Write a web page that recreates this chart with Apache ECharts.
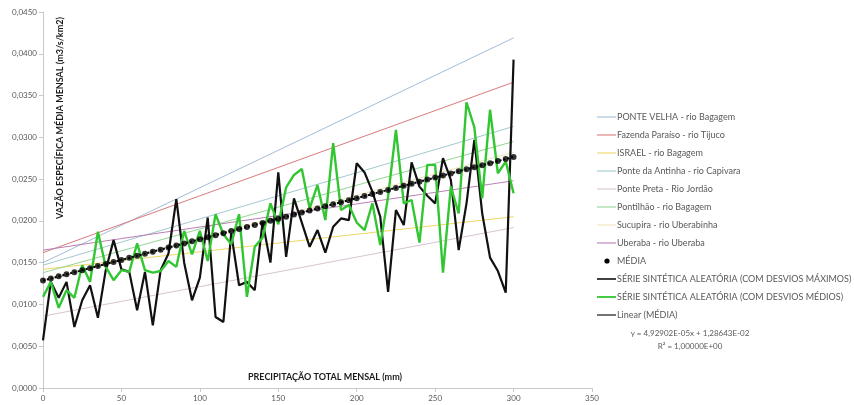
<!DOCTYPE html>
<html>
<head>
<meta charset="utf-8">
<script src="https://cdn.jsdelivr.net/npm/echarts@6/dist/echarts.min.js"></script>
<style>
html, body { margin: 0; padding: 0; background: #ffffff; }
#chart { width: 854px; height: 405px; }
</style>
</head>
<body>
<div id="chart"></div>
<script>
// Monthly precipitation (mm) at which the synthetic series are sampled
const precipitation = [
  0, 5, 10, 15, 20, 25, 30, 35, 40, 45,
  50, 55, 60, 65, 70, 75, 80, 85, 90, 95,
  100, 105, 110, 115, 120, 125, 130, 135, 140, 145,
  150, 155, 160, 165, 170, 175, 180, 185, 190, 195,
  200, 205, 210, 215, 220, 225, 230, 235, 240, 245,
  250, 255, 260, 265, 270, 275, 280, 285, 290, 295,
  300
];

// Random synthetic series, maximum deviations (m3/s/km2)
const seriesMaxDeviation = [
  0.0057, 0.0127, 0.0108, 0.0127, 0.0073, 0.0105, 0.0123, 0.0084, 0.0141, 0.0177,
  0.0142, 0.0139, 0.0093, 0.0139, 0.0075, 0.0141, 0.0161, 0.0226, 0.0150, 0.0105,
  0.0132, 0.0204, 0.0085, 0.0079, 0.0185, 0.0123, 0.0127, 0.0117, 0.0199, 0.0150,
  0.0258, 0.0157, 0.0227, 0.0198, 0.0169, 0.0189, 0.0162, 0.0193, 0.0203, 0.0201,
  0.0269, 0.0258, 0.0235, 0.0205, 0.0115, 0.0213, 0.0195, 0.0270, 0.0241, 0.0230,
  0.0221, 0.0275, 0.0249, 0.0165, 0.0221, 0.0297, 0.0209, 0.0156, 0.0140, 0.0114,
  0.0393
];

// Random synthetic series, mean deviations (m3/s/km2)
const seriesMeanDeviation = [
  0.0109, 0.0127, 0.0096, 0.0117, 0.0108, 0.0147, 0.0127, 0.0187, 0.0145, 0.0129,
  0.0141, 0.0139, 0.0173, 0.0141, 0.0138, 0.0140, 0.0152, 0.0145, 0.0188, 0.0160,
  0.0188, 0.0152, 0.0208, 0.0184, 0.0172, 0.0208, 0.0109, 0.0169, 0.0180, 0.0221,
  0.0196, 0.0240, 0.0255, 0.0262, 0.0215, 0.0243, 0.0201, 0.0293, 0.0213, 0.0219,
  0.0198, 0.0189, 0.0221, 0.0171, 0.0229, 0.0309, 0.0221, 0.0225, 0.0174, 0.0267,
  0.0267, 0.0138, 0.0241, 0.0209, 0.0342, 0.0312, 0.0227, 0.0333, 0.0257, 0.0271,
  0.0233
];

// Mean of the station regressions (MÉDIA)
const mediaValues = [
  0.01286, 0.01311, 0.01336, 0.01360, 0.01385, 0.01410, 0.01434, 0.01459, 0.01484, 0.01508,
  0.01533, 0.01558, 0.01582, 0.01607, 0.01631, 0.01656, 0.01681, 0.01705, 0.01730, 0.01755,
  0.01779, 0.01804, 0.01829, 0.01853, 0.01878, 0.01903, 0.01927, 0.01952, 0.01976, 0.02001,
  0.02026, 0.02050, 0.02075, 0.02100, 0.02124, 0.02149, 0.02174, 0.02198, 0.02223, 0.02248,
  0.02272, 0.02297, 0.02322, 0.02346, 0.02371, 0.02395, 0.02420, 0.02445, 0.02469, 0.02494,
  0.02519, 0.02543, 0.02568, 0.02593, 0.02617, 0.02642, 0.02667, 0.02691, 0.02716, 0.02740,
  0.02765
];

// Linear fit of MÉDIA
const trendSlope = 4.92902e-5;
const trendIntercept = 1.28643e-2;
const trendR2 = 1.0;

// Gauging stations: regression line endpoints at 0 mm and 300 mm
const stationNames = [
  'PONTE VELHA - rio Bagagem',
  'Fazenda Paraíso - rio Tijuco',
  'ISRAEL - rio Bagagem',
  'Ponte da Antinha - rio Capivara',
  'Ponte Preta - Rio Jordão',
  'Pontilhão - rio Bagagem',
  'Sucupira - rio Uberabinha',
  'Uberaba - rio Uberaba'
];
const stationRangeX = [0, 300];
const stationStart = [0.0150, 0.0162, 0.0142, 0.0147, 0.0086, 0.0138, 0.0128, 0.0165];
const stationEnd   = [0.0419, 0.0366, 0.0205, 0.0313, 0.0192, 0.0295, 0.0282, 0.0248];

// Tick labels
const xTicks = [0, 50, 100, 150, 200, 250, 300, 350];
const yTicks = [0, 0.005, 0.01, 0.015, 0.02, 0.025, 0.03, 0.035, 0.04, 0.045];

// Styling
const stationColors = ['#a4bcd6', '#d97a7c', '#f0d766', '#a3c8cf', '#d9c3d3', '#93d693', '#eee6b8', '#bb7fb7'];
const FONT = 'Lato, "Open Sans", sans-serif';
const labelGrey = '#595959';
const maxColor = '#111111';
const meanColor = '#33c633';

function sciPt(v) {
  // 4.92902e-5 -> 4,92902E-05
  const [m, e] = v.toExponential(5).split('e');
  const n = parseInt(e, 10);
  const exp = (n < 0 ? '-' : '+') + String(Math.abs(n)).padStart(2, '0');
  return m.replace('.', ',') + 'E' + exp;
}

const pairs = (ys) => precipitation.map((x, i) => [x, ys[i]]);

const series = [];
stationNames.forEach((name, i) => {
  series.push({
    name: name,
    type: 'line',
    symbol: 'none',
    silent: true,
    lineStyle: { color: stationColors[i], width: 1 },
    data: [[stationRangeX[0], stationStart[i]], [stationRangeX[1], stationEnd[i]]],
    z: 1
  });
});
series.push({
  name: 'SÉRIE SINTÉTICA ALEATÓRIA (COM DESVIOS MÁXIMOS)',
  type: 'line',
  symbol: 'none',
  lineStyle: { color: maxColor, width: 2.2 },
  data: pairs(seriesMaxDeviation),
  z: 3
});
series.push({
  name: 'SÉRIE SINTÉTICA ALEATÓRIA (COM DESVIOS MÉDIOS)',
  type: 'line',
  symbol: 'none',
  lineStyle: { color: meanColor, width: 2.4 },
  data: pairs(seriesMeanDeviation),
  z: 4
});
series.push({
  name: 'Linear (MÉDIA)',
  type: 'line',
  symbol: 'none',
  lineStyle: { color: '#000000', width: 2, type: 'dotted' },
  data: stationRangeX.map(x => [x, trendIntercept + trendSlope * x]),
  z: 5
});
series.push({
  name: 'MÉDIA',
  type: 'scatter',
  symbol: 'circle',
  symbolSize: 6,
  itemStyle: { color: '#000000' },
  data: pairs(mediaValues),
  z: 6
});

// Legend, drawn as graphic rows: line (or dot) key plus label
const legendEntries = stationNames.map((n, i) => ({ name: n, kind: 'line', color: stationColors[i], width: 1.1 }))
  .concat([
    { name: 'MÉDIA', kind: 'dot', color: '#000000' },
    { name: 'SÉRIE SINTÉTICA ALEATÓRIA (COM DESVIOS MÁXIMOS)', kind: 'line', color: maxColor, width: 1.6 },
    { name: 'SÉRIE SINTÉTICA ALEATÓRIA (COM DESVIOS MÉDIOS)', kind: 'line', color: meanColor, width: 1.8 },
    { name: 'Linear (MÉDIA)', kind: 'line', color: '#000000', width: 1.1 }
  ]);
const legendX = 597, legendTop = 117, legendStep = 18;
const legendGraphics = [];
legendEntries.forEach((e, i) => {
  const y = legendTop + i * legendStep;
  if (e.kind === 'line') {
    legendGraphics.push({
      type: 'line',
      shape: { x1: legendX, y1: y, x2: legendX + 19, y2: y },
      style: { stroke: e.color, lineWidth: e.width }
    });
  } else {
    legendGraphics.push({
      type: 'circle',
      shape: { cx: legendX + 10, cy: y, r: 2.6 },
      style: { fill: e.color }
    });
  }
  legendGraphics.push({
    type: 'text',
    x: legendX + 20, y: y,
    style: {
      text: e.name,
      font: '9px ' + FONT,
      fill: labelGrey,
      align: 'left',
      verticalAlign: 'middle'
    }
  });
});

const chart = echarts.init(document.getElementById('chart'), null, { renderer: 'canvas' });
chart.setOption({
  animation: false,
  backgroundColor: '#ffffff',
  grid: { left: 43, top: 12, right: 262, bottom: 17, containLabel: false },
  xAxis: {
    type: 'value',
    min: xTicks[0],
    max: xTicks[xTicks.length - 1],
    interval: xTicks[1] - xTicks[0],
    splitLine: { show: false },
    axisLine: { show: true, lineStyle: { color: '#c8c8c8', width: 1 } },
    axisTick: { show: true, length: 4, lineStyle: { color: '#c8c8c8' } },
    axisLabel: { color: labelGrey, fontSize: 8, fontFamily: FONT, margin: 6 }
  },
  yAxis: {
    type: 'value',
    min: yTicks[0],
    max: yTicks[yTicks.length - 1],
    interval: yTicks[1] - yTicks[0],
    splitLine: { show: false },
    axisLine: { show: true, lineStyle: { color: '#c8c8c8', width: 1 } },
    axisTick: { show: true, length: 4, lineStyle: { color: '#c8c8c8' } },
    axisLabel: {
      color: labelGrey, fontSize: 8, fontFamily: FONT, margin: 6,
      formatter: v => v.toFixed(4).replace('.', ',')
    }
  },
  graphic: legendGraphics.concat([
    {
      type: 'text',
      x: 60, y: 118,
      rotation: Math.PI / 2,
      style: {
        text: 'VAZÃO ESPECÍFICA MÉDIA MENSAL (m3/s/km2)',
        font: 'bold 9px ' + FONT,
        fill: '#1a1a1a',
        align: 'center',
        verticalAlign: 'middle'
      },
      z: 10
    },
    {
      type: 'text',
      x: 325, y: 377,
      style: {
        text: 'PRECIPITAÇÃO TOTAL MENSAL (mm)',
        font: 'bold 9px ' + FONT,
        fill: '#1a1a1a',
        align: 'center',
        verticalAlign: 'middle'
      },
      z: 10
    },
    {
      type: 'text',
      x: 690, y: 333,
      style: {
        text: 'y = ' + sciPt(trendSlope) + 'x + ' + sciPt(trendIntercept),
        font: '8px ' + FONT,
        fill: labelGrey,
        align: 'center',
        verticalAlign: 'middle'
      }
    },
    {
      type: 'text',
      x: 690, y: 346,
      style: {
        text: 'R² = ' + sciPt(trendR2),
        font: '8px ' + FONT,
        fill: labelGrey,
        align: 'center',
        verticalAlign: 'middle'
      }
    }
  ]),
  series: series
});
</script>
</body>
</html>
